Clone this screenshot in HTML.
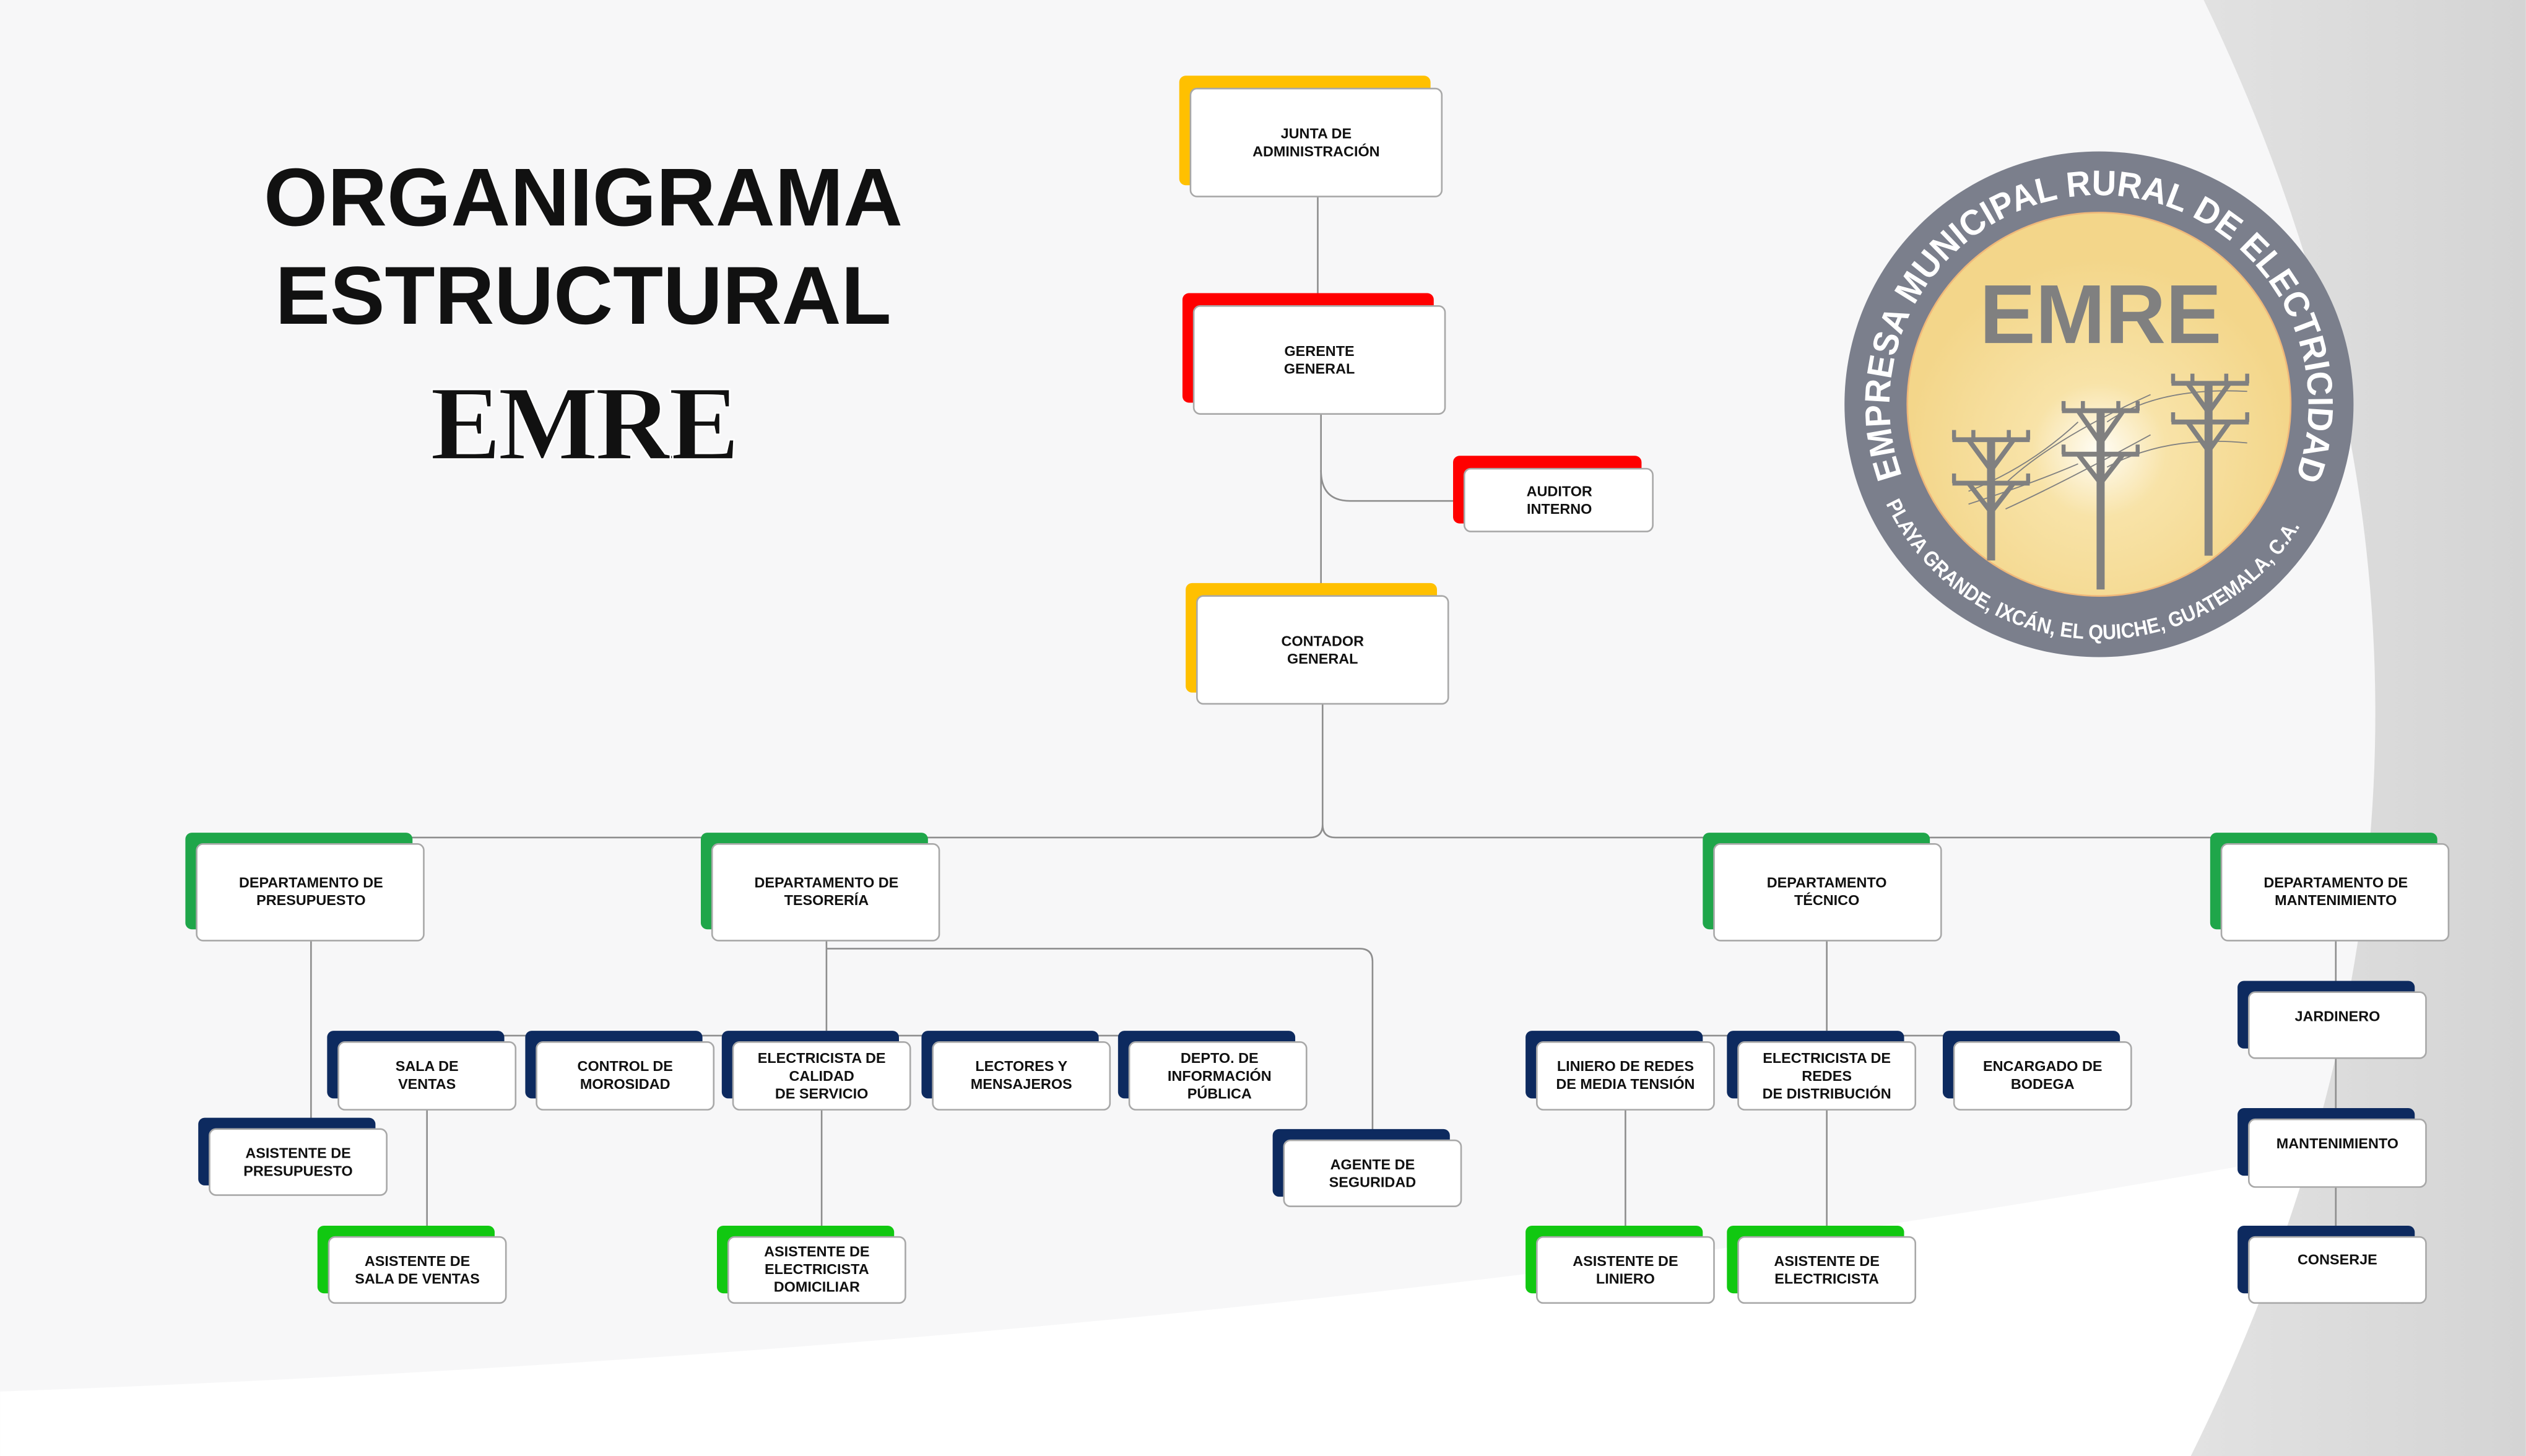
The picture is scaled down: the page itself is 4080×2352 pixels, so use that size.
<!DOCTYPE html>
<html><head><meta charset="utf-8"><style>
html,body{margin:0;padding:0;background:#f7f7f8}
svg{display:block}
.n{font-family:"Liberation Sans",Arial,sans-serif;font-weight:bold;font-size:9px;fill:#111;text-anchor:middle}
.w{fill:#fff;stroke:#a8a8a8;stroke-width:1}
.l{stroke:#8e8e8e;stroke-width:1;fill:none}
</style></head><body>
<svg width="4080" height="2352" viewBox="0 0 1568 904" xmlns="http://www.w3.org/2000/svg">
<defs>
<radialGradient id="sun" cx="0.5" cy="0.62" r="0.5"><stop offset="0" stop-color="#fffdf5"/><stop offset="0.35" stop-color="#f8e3a8"/><stop offset="1" stop-color="#f3d68a"/></radialGradient>
<linearGradient id="bg" x1="0" x2="1" y1="0" y2="0"><stop offset="0" stop-color="#e2e2e2"/><stop offset="1" stop-color="#d4d4d4"/></linearGradient>
</defs>
<rect width="1568" height="904" fill="#f7f7f8"/>
<path d="M0 864 Q800 835 1440 715 L1568 700 L1568 904 L0 904 Z" fill="#ffffff"/>
<path d="M1368 0 Q1585 450 1360 904 L1568 904 L1568 0 Z" fill="url(#bg)"/>

<!-- title -->
<text x="362" y="140" font-family="Liberation Sans,Arial,sans-serif" font-weight="bold" font-size="51" text-anchor="middle" fill="#111">ORGANIGRAMA</text>
<text x="362" y="201" font-family="Liberation Sans,Arial,sans-serif" font-weight="bold" font-size="51" text-anchor="middle" fill="#111">ESTRUCTURAL</text>
<text x="362" y="285" font-family="Liberation Serif,serif" font-weight="bold" font-size="66" text-anchor="middle" fill="#111" stroke="#fff" stroke-width="1" letter-spacing="-2">EMRE</text>

<!-- logo -->
<ellipse cx="1303" cy="251" rx="158" ry="157" fill="#7b7f8c"/>
<ellipse cx="1303" cy="251" rx="119" ry="119" fill="url(#sun)" stroke="#f0b87a" stroke-width="1"/>
<path id="ta" d="M1180.8 295.5 A130 130 0 1 1 1425.2 295.5" fill="none"/>
<text font-family="Liberation Sans,Arial,sans-serif" font-weight="bold" font-size="22" fill="#fff"><textPath href="#ta" textLength="500" lengthAdjust="spacingAndGlyphs">EMPRESA MUNICIPAL RURAL DE ELECTRICIDAD</textPath></text>
<path id="tb" d="M1170.7 312.7 A146 146 0 0 0 1435.3 312.7" fill="none"/>
<text font-family="Liberation Sans,Arial,sans-serif" font-weight="bold" font-size="13" fill="#fff"><textPath href="#tb" textLength="315" lengthAdjust="spacingAndGlyphs">PLAYA GRANDE, IXCÁN, EL QUICHE, GUATEMALA, C.A.</textPath></text>
<text x="1304" y="213" font-family="Liberation Sans,Arial,sans-serif" font-weight="bold" font-size="52" text-anchor="middle" fill="#808080">EMRE</text>
<g stroke="#808080" fill="none">
 <g stroke-width="0.7">
  <path d="M1222 305 Q1260 290 1290 262 M1222 313 Q1262 300 1290 288 M1245 300 Q1275 272 1335 245 M1245 316 Q1280 300 1335 270 M1308 262 Q1340 240 1395 243 M1308 290 Q1345 270 1395 275"/>
 </g>
 <g stroke-width="5">
  <path d="M1236 272 V348 M1304 254 V366 M1371 237 V345"/>
 </g>
 <g stroke-width="3">
  <path d="M1212 273 H1260 M1212 300 H1260 M1280 255 H1328 M1280 282 H1328 M1348 238 H1396 M1348 262 H1396"/>
  <path d="M1222 273 L1236 292 L1250 273 M1290 255 L1304 275 L1318 255 M1358 238 L1371 256 L1384 238 M1222 300 L1236 318 L1250 300 M1290 282 L1304 300 L1318 282 M1358 262 L1371 280 L1384 262"/>
 </g>
 <g stroke-width="2.5">
  <path d="M1213 267 v6 M1225 267 v6 M1247 267 v6 M1259 267 v6 M1213 294 v6 M1259 294 v6 M1281 249 v6 M1293 249 v6 M1315 249 v6 M1327 249 v6 M1281 276 v6 M1327 276 v6 M1349 232 v6 M1361 232 v6 M1382 232 v6 M1395 232 v6 M1349 256 v6 M1395 256 v6"/>
 </g>
</g>

<!-- connectors -->
<g class="l">
 <path d="M818 122 V190"/>
 <path d="M820 257 V370"/>
 <path d="M820 292 Q820 311 838 311 H909"/>
 <path d="M821 437 V512 Q821 520 813 520 H193 V524"/>
 <path d="M821 512 Q821 520 829 520 H1450 V524"/>
 <path d="M513 520 V524 M1134 520 V524"/>
 <path d="M193 584 V701"/>
 <path d="M513 584 V640"/>
 <path d="M265 643 H757"/>
 <path d="M513 589 H844 Q852 589 852 597 V708"/>
 <path d="M265 689 V768"/>
 <path d="M510 689 V768"/>
 <path d="M1134 584 V640"/>
 <path d="M1009 643 H1268"/>
 <path d="M1009 689 V768"/>
 <path d="M1134 689 V768"/>
 <path d="M1450 584 V768"/>
</g>

<!-- top nodes -->
<rect x="732" y="47" width="156" height="68" rx="4" fill="#ffc000"/>
<rect class="w" x="739" y="55" width="156" height="67" rx="4"/>
<text class="n" x="817" y="86">JUNTA DE</text><text class="n" x="817" y="97">ADMINISTRACIÓN</text>

<rect x="734" y="182" width="156" height="68" rx="4" fill="#ff0000"/>
<rect class="w" x="741" y="190" width="156" height="67" rx="4"/>
<text class="n" x="819" y="221">GERENTE</text><text class="n" x="819" y="232">GENERAL</text>

<rect x="902" y="283" width="117" height="42" rx="4" fill="#ff0000"/>
<rect class="w" x="909" y="291" width="117" height="39" rx="4"/>
<text class="n" x="968" y="308">AUDITOR</text><text class="n" x="968" y="319">INTERNO</text>

<rect x="736" y="362" width="156" height="68" rx="4" fill="#ffc000"/>
<rect class="w" x="743" y="370" width="156" height="67" rx="4"/>
<text class="n" x="821" y="401">CONTADOR</text><text class="n" x="821" y="412">GENERAL</text>

<!-- departments -->
<g>
<rect x="115" y="517" width="141" height="60" rx="4" fill="#1fa64a"/>
<rect class="w" x="122" y="524" width="141" height="60" rx="4"/>
<text class="n" x="193" y="551">DEPARTAMENTO DE</text><text class="n" x="193" y="562">PRESUPUESTO</text>
<rect x="435" y="517" width="141" height="60" rx="4" fill="#1fa64a"/>
<rect class="w" x="442" y="524" width="141" height="60" rx="4"/>
<text class="n" x="513" y="551">DEPARTAMENTO DE</text><text class="n" x="513" y="562">TESORERÍA</text>
<rect x="1057" y="517" width="141" height="60" rx="4" fill="#1fa64a"/>
<rect class="w" x="1064" y="524" width="141" height="60" rx="4"/>
<text class="n" x="1134" y="551">DEPARTAMENTO</text><text class="n" x="1134" y="562">TÉCNICO</text>
<rect x="1372" y="517" width="141" height="60" rx="4" fill="#1fa64a"/>
<rect class="w" x="1379" y="524" width="141" height="60" rx="4"/>
<text class="n" x="1450" y="551">DEPARTAMENTO DE</text><text class="n" x="1450" y="562">MANTENIMIENTO</text>
</g>

<!-- navy nodes -->
<g>
<rect x="203" y="640" width="110" height="42" rx="4" fill="#0d2a5f"/><rect class="w" x="210" y="647" width="110" height="42" rx="4"/>
<text class="n" x="265" y="665">SALA DE</text><text class="n" x="265" y="676">VENTAS</text>
<rect x="326" y="640" width="110" height="42" rx="4" fill="#0d2a5f"/><rect class="w" x="333" y="647" width="110" height="42" rx="4"/>
<text class="n" x="388" y="665">CONTROL DE</text><text class="n" x="388" y="676">MOROSIDAD</text>
<rect x="448" y="640" width="110" height="42" rx="4" fill="#0d2a5f"/><rect class="w" x="455" y="647" width="110" height="42" rx="4"/>
<text class="n" x="510" y="660">ELECTRICISTA DE</text><text class="n" x="510" y="671">CALIDAD</text><text class="n" x="510" y="682">DE SERVICIO</text>
<rect x="572" y="640" width="110" height="42" rx="4" fill="#0d2a5f"/><rect class="w" x="579" y="647" width="110" height="42" rx="4"/>
<text class="n" x="634" y="665">LECTORES Y</text><text class="n" x="634" y="676">MENSAJEROS</text>
<rect x="694" y="640" width="110" height="42" rx="4" fill="#0d2a5f"/><rect class="w" x="701" y="647" width="110" height="42" rx="4"/>
<text class="n" x="757" y="660">DEPTO. DE</text><text class="n" x="757" y="671">INFORMACIÓN</text><text class="n" x="757" y="682">PÚBLICA</text>
<rect x="123" y="694" width="110" height="42" rx="4" fill="#0d2a5f"/><rect class="w" x="130" y="701" width="110" height="41" rx="4"/>
<text class="n" x="185" y="719">ASISTENTE DE</text><text class="n" x="185" y="730">PRESUPUESTO</text>
<rect x="790" y="701" width="110" height="42" rx="4" fill="#0d2a5f"/><rect class="w" x="797" y="708" width="110" height="41" rx="4"/>
<text class="n" x="852" y="726">AGENTE DE</text><text class="n" x="852" y="737">SEGURIDAD</text>
<rect x="947" y="640" width="110" height="42" rx="4" fill="#0d2a5f"/><rect class="w" x="954" y="647" width="110" height="42" rx="4"/>
<text class="n" x="1009" y="665">LINIERO DE REDES</text><text class="n" x="1009" y="676">DE MEDIA TENSIÓN</text>
<rect x="1072" y="640" width="110" height="42" rx="4" fill="#0d2a5f"/><rect class="w" x="1079" y="647" width="110" height="42" rx="4"/>
<text class="n" x="1134" y="660">ELECTRICISTA DE</text><text class="n" x="1134" y="671">REDES</text><text class="n" x="1134" y="682">DE DISTRIBUCIÓN</text>
<rect x="1206" y="640" width="110" height="42" rx="4" fill="#0d2a5f"/><rect class="w" x="1213" y="647" width="110" height="42" rx="4"/>
<text class="n" x="1268" y="665">ENCARGADO DE</text><text class="n" x="1268" y="676">BODEGA</text>
<rect x="1389" y="609" width="110" height="42" rx="4" fill="#0d2a5f"/><rect class="w" x="1396" y="616" width="110" height="41" rx="4"/>
<text class="n" x="1451" y="634">JARDINERO</text>
<rect x="1389" y="688" width="110" height="42" rx="4" fill="#0d2a5f"/><rect class="w" x="1396" y="695" width="110" height="42" rx="4"/>
<text class="n" x="1451" y="713">MANTENIMIENTO</text>
<rect x="1389" y="761" width="110" height="42" rx="4" fill="#0d2a5f"/><rect class="w" x="1396" y="768" width="110" height="41" rx="4"/>
<text class="n" x="1451" y="785">CONSERJE</text>
</g>

<!-- green assistants -->
<g>
<rect x="197" y="761" width="110" height="42" rx="4" fill="#11c811"/><rect class="w" x="204" y="768" width="110" height="41" rx="4"/>
<text class="n" x="259" y="786">ASISTENTE DE</text><text class="n" x="259" y="797">SALA DE VENTAS</text>
<rect x="445" y="761" width="110" height="42" rx="4" fill="#11c811"/><rect class="w" x="452" y="768" width="110" height="41" rx="4"/>
<text class="n" x="507" y="780">ASISTENTE DE</text><text class="n" x="507" y="791">ELECTRICISTA</text><text class="n" x="507" y="802">DOMICILIAR</text>
<rect x="947" y="761" width="110" height="42" rx="4" fill="#11c811"/><rect class="w" x="954" y="768" width="110" height="41" rx="4"/>
<text class="n" x="1009" y="786">ASISTENTE DE</text><text class="n" x="1009" y="797">LINIERO</text>
<rect x="1072" y="761" width="110" height="42" rx="4" fill="#11c811"/><rect class="w" x="1079" y="768" width="110" height="41" rx="4"/>
<text class="n" x="1134" y="786">ASISTENTE DE</text><text class="n" x="1134" y="797">ELECTRICISTA</text>
</g>
</svg>
</body></html>
